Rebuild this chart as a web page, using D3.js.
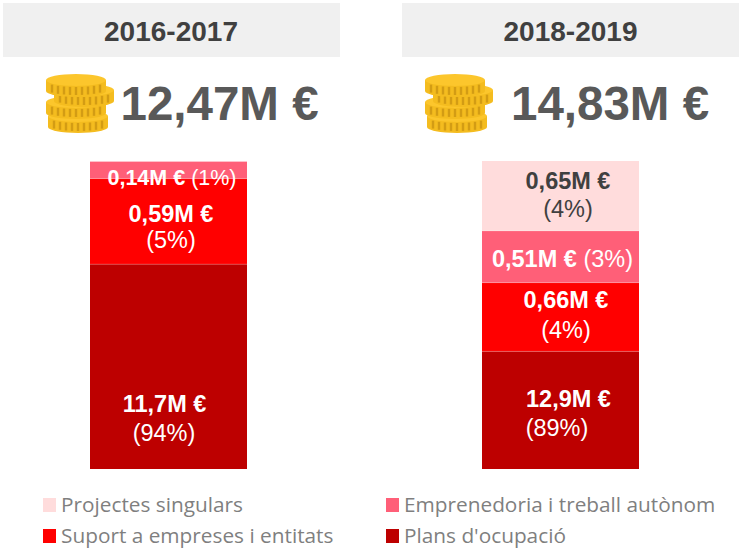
<!DOCTYPE html>
<html><head><meta charset="utf-8">
<script src="https://cdn.jsdelivr.net/npm/d3@7"></script>
<style>html,body{margin:0;padding:0;background:#fff}svg{display:block}</style></head>
<body><div id="c"></div>
<script>
const periods = ["2016-2017","2018-2019"];
const totals = ["12,47M €","14,83M €"];
const categories = ["Plans d'ocupació","Suport a empreses i entitats","Emprenedoria i treball autònom","Projectes singulars"];
const colors = ["#bd0000","#ff0000","#ff5f78","#ffdcdc"];
// Segment sizes as drawn in the picture (share of the bar height; the original is not to scale)
const drawn2016 = [66.5,27.8,5.5,0];
const drawn2018 = [38.2,22.3,16.8,22.7];
const amounts2016 = ["11,7M €","0,59M €","0,14M €",""];
const amounts2018 = ["12,9M €","0,66M €","0,51M €","0,65M €"];
const shares2016 = ["(94%)","(5%)","(1%)",""];
const shares2018 = ["(89%)","(4%)","(3%)","(4%)"];

const W=739,H=551;
const svg=d3.select("#c").append("svg").attr("width",W).attr("height",H);
const y=d3.scaleLinear().domain([0,100]).range([469,161]);
const panelX=d3.scaleOrdinal().domain(periods).range([3,402]);
const barX=d3.scaleOrdinal().domain(periods).range([90,482]);
const barW=157;
const sans="'Liberation Sans',Arial,sans-serif";

function coins(g){
  const stack=[[78,116],[76,102],[84,90],[76,80]];
  const rx=30,ry=6,h=11;
  stack.forEach(([cx,cy])=>{
    const l=g.append("g");
    l.append("path").attr("d",`M${cx-rx},${cy} v${h} a${rx},${ry} 0 0 0 ${2*rx},0 v${-h} z`).attr("fill","#f4bc1f");
    d3.range(-24,25,6).forEach(d=>{
      const yy=cy+ry*Math.sqrt(1-d*d/(rx*rx));
      l.append("rect").attr("x",cx+d-1.2).attr("y",yy+1).attr("width",2.4).attr("height",h-3).attr("fill","#d39c14");
    });
    l.append("ellipse").attr("cx",cx).attr("cy",cy).attr("rx",rx).attr("ry",ry).attr("fill","#fcc62c");
  });
}

periods.forEach((p,i)=>{
  const px=panelX(p), bx=barX(p);
  svg.append("rect").attr("x",px).attr("y",3).attr("width",337).attr("height",54).attr("fill","#f0f0f0");
  svg.append("text").attr("x",px+168+(i?0.5:0)).attr("y",41).attr("text-anchor","middle")
    .attr("font-family",sans).attr("font-weight","bold").attr("font-size",28).attr("fill","#404040").text(p);
  const cg=svg.append("g").attr("transform",`translate(${i?379:0},0)`);
  coins(cg);
  svg.append("text").attr("x",i?511:120.5).attr("y",120)
    .attr("font-family",sans).attr("font-weight","bold").attr("font-size",47.5).attr("fill","#595959").text(totals[i]);

  const vals=i?drawn2018:drawn2016;
  let cum=0;
  const segs=vals.map((v,k)=>{const s={k,y0:cum,y1:cum+v};cum+=v;return s;}).filter(s=>s.y1>s.y0);
  svg.append("g").selectAll("rect").data(segs).join("rect")
    .attr("x",bx).attr("width",barW)
    .attr("y",d=>y(d.y1)).attr("height",d=>y(d.y0)-y(d.y1))
    .attr("fill",d=>colors[d.k]);
  svg.append("g").selectAll("line").data(segs.slice(1)).join("line")
    .attr("x1",bx).attr("x2",bx+barW).attr("y1",d=>y(d.y0)).attr("y2",d=>y(d.y0))
    .attr("stroke","#ffffff").attr("stroke-opacity",0.2).attr("stroke-width",1);
});

// Label placement: [panel, category, inline?, amount centre x, share centre x, amount baseline, share baseline, size]
const labelLayout=[
 [0,0,false,164.5,164,412,441,23.5],
 [0,1,false,171,171,222,248,23.5],
 [0,2,true,172,172,185,185,21.5],
 [1,0,false,568.5,557,407,436,23.5],
 [1,1,false,566,566,308,338,23.5],
 [1,2,true,562.5,562.5,267,267,23.5],
 [1,3,false,568,568,189,217,23.5]
];
labelLayout.forEach(([pi,k,inline,cx,cx2,b1,b2,fs])=>{
  const am=(pi?amounts2018:amounts2016)[k], sh=(pi?shares2018:shares2016)[k];
  const fill=(pi===1&&k===3)?"#404040":"#ffffff";
  if(inline){
    const t=svg.append("text").attr("x",cx).attr("y",b1).attr("text-anchor","middle").attr("font-family",sans).attr("font-size",fs).attr("fill",fill);
    t.append("tspan").attr("font-weight","bold").text(am);
    t.append("tspan").text(" "+sh);
  }else{
    svg.append("text").attr("x",cx).attr("y",b1).attr("text-anchor","middle").attr("font-family",sans).attr("font-size",fs).attr("font-weight","bold").attr("fill",fill).text(am);
    svg.append("text").attr("x",cx2).attr("y",b2).attr("text-anchor","middle").attr("font-family",sans).attr("font-size",fs).attr("fill",fill).text(sh);
  }
});

// Legend
const legendOrder=[3,2,1,0];
const legX=d3.scaleOrdinal().domain([0,1]).range([43,386]);
const legY=d3.scaleOrdinal().domain([0,1]).range([505,536]);
legendOrder.forEach((k,n)=>{
  const col=n%2,row=Math.floor(n/2);
  svg.append("rect").attr("x",legX(col)).attr("y",legY(row)-7).attr("width",13).attr("height",14).attr("fill",colors[k]);
  svg.append("text").attr("x",legX(col)+18).attr("y",legY(row)+7)
    .attr("font-family","'Open Sans',sans-serif").attr("font-size",20.8).attr("fill","#7f7f7f").text(categories[k]);
});
</script></body></html>
